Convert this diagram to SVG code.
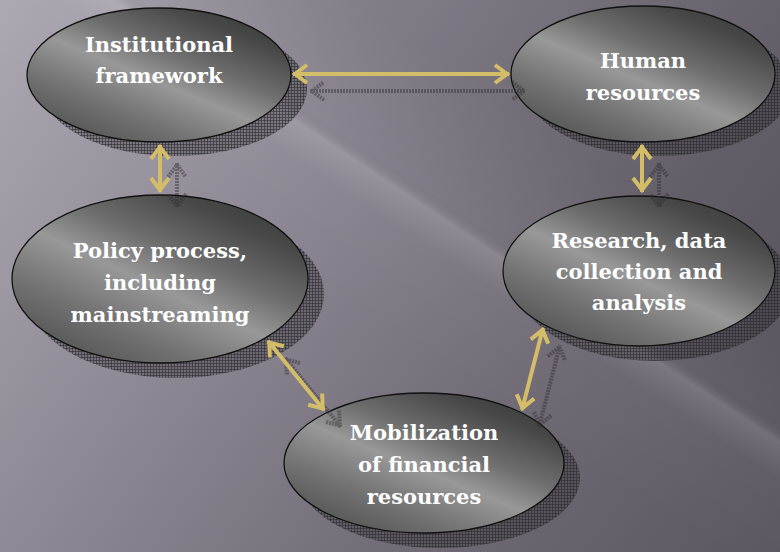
<svg xmlns="http://www.w3.org/2000/svg" width="780" height="552" viewBox="0 0 780 552">
<defs>
<style>
.node{stroke:#111;stroke-width:1.3}
.fill{fill:url(#eg)}
.shadow{fill:url(#hatch)}
.lbl{font-family:"DejaVu Serif","Liberation Serif",serif;font-weight:bold;font-size:21px;fill:#fff;text-anchor:middle}
.conn{stroke:#d4bd68;stroke-width:4;fill:none;marker-start:url(#ah);marker-end:url(#ah)}
.sconn{stroke:#2e2c31;stroke-width:4;fill:none;opacity:0.45;stroke-dasharray:2 1;marker-start:url(#sah);marker-end:url(#sah)}
</style>
<linearGradient id="bg" x1="0" y1="0" x2="780" y2="552" gradientUnits="userSpaceOnUse">
<stop offset="0" stop-color="#aca7b1"/>
<stop offset="0.4" stop-color="#8a8490"/>
<stop offset="0.7" stop-color="#6e6973"/>
<stop offset="1" stop-color="#5b5660"/>
</linearGradient>
<linearGradient id="band" x1="337" y1="307" x2="483" y2="87" gradientUnits="userSpaceOnUse">
<stop offset="0" stop-color="#fff" stop-opacity="0"/>
<stop offset="0.38" stop-color="#fff" stop-opacity="0.02"/>
<stop offset="0.5" stop-color="#fff" stop-opacity="0.13"/>
<stop offset="0.56" stop-color="#000" stop-opacity="0.02"/>
<stop offset="1" stop-color="#000" stop-opacity="0.1"/>
</linearGradient>
<linearGradient id="eg" x1="0.12" y1="1.03" x2="0.92" y2="0.05">
<stop offset="0" stop-color="#4a4a4a"/>
<stop offset="0.28" stop-color="#737373"/>
<stop offset="0.48" stop-color="#989898"/>
<stop offset="0.64" stop-color="#6e6e6e"/>
<stop offset="0.85" stop-color="#484848"/>
<stop offset="1" stop-color="#3a3a3a"/>
</linearGradient>
<pattern id="hatch" width="3" height="3" patternUnits="userSpaceOnUse">
<rect width="3" height="3" fill="#2f2d32" fill-opacity="0.3"/>
<rect width="3" height="1" fill="#2a282c" fill-opacity="0.55"/>
<rect width="1" height="3" fill="#2a282c" fill-opacity="0.55"/>
</pattern>
<marker id="ah" viewBox="-20 -12 24 24" refX="0" refY="0" markerWidth="24" markerHeight="24" markerUnits="userSpaceOnUse" orient="auto-start-reverse">
<path d="M-14 -9 L-2 0 L-14 9" fill="none" stroke="#d4bd68" stroke-width="4"/>
</marker>
<marker id="sah" viewBox="-20 -12 24 24" refX="0" refY="0" markerWidth="24" markerHeight="24" markerUnits="userSpaceOnUse" orient="auto-start-reverse">
<path d="M-14 -9 L-2 0 L-14 9" fill="none" stroke="#2e2c31" stroke-width="4" stroke-dasharray="2 1"/>
</marker>
</defs>
<rect width="780" height="552" fill="url(#bg)"/>
<rect width="780" height="552" fill="url(#band)"/>

<g id="n-institutional">
<ellipse class="shadow" cx="175" cy="89" rx="132" ry="67"/>
<ellipse class="node fill" cx="159" cy="75" rx="132" ry="67"/>
</g>
<g id="n-human">
<ellipse class="shadow" cx="659" cy="88" rx="132" ry="68"/>
<ellipse class="node fill" cx="643" cy="74" rx="132" ry="68"/>
</g>
<g id="n-policy">
<ellipse class="shadow" cx="176" cy="294" rx="148" ry="84"/>
<ellipse class="node fill" cx="160" cy="279" rx="148" ry="84"/>
</g>
<g id="n-research">
<ellipse class="shadow" cx="655" cy="286" rx="136" ry="75"/>
<ellipse class="node fill" cx="639" cy="271" rx="136" ry="75"/>
</g>
<g id="n-mobilization">
<ellipse class="shadow" cx="440" cy="478" rx="140" ry="70"/>
<ellipse class="node fill" cx="424" cy="463" rx="140" ry="70"/>
</g>

<g id="connectors">
<line class="sconn" x1="310" y1="91" x2="526" y2="91"/>
<line class="sconn" x1="177" y1="163" x2="177" y2="208"/>
<line class="sconn" x1="659" y1="163" x2="659" y2="208"/>
<line class="sconn" x1="285" y1="358" x2="341" y2="427"/>
<line class="sconn" x1="539" y1="427" x2="560" y2="345"/>
<line class="conn" x1="293" y1="74" x2="509" y2="74"/>
<line class="conn" x1="160" y1="145" x2="160" y2="192"/>
<line class="conn" x1="642" y1="145" x2="642" y2="192"/>
<line class="conn" x1="268" y1="341" x2="324" y2="410"/>
<line class="conn" x1="522" y1="410" x2="543" y2="328"/>
</g>

<g id="labels">
<text class="lbl" x="159" y="52">Institutional</text>
<text class="lbl" x="159" y="83">framework</text>
<text class="lbl" x="643" y="68">Human</text>
<text class="lbl" x="643" y="100">resources</text>
<text class="lbl" x="160" y="258">Policy process,</text>
<text class="lbl" x="160" y="290">including</text>
<text class="lbl" x="160" y="322">mainstreaming</text>
<text class="lbl" x="639" y="248">Research, data</text>
<text class="lbl" x="639" y="279">collection and</text>
<text class="lbl" x="639" y="310">analysis</text>
<text class="lbl" x="424" y="440">Mobilization</text>
<text class="lbl" x="424" y="472">of financial</text>
<text class="lbl" x="424" y="504">resources</text>
</g>
</svg>
